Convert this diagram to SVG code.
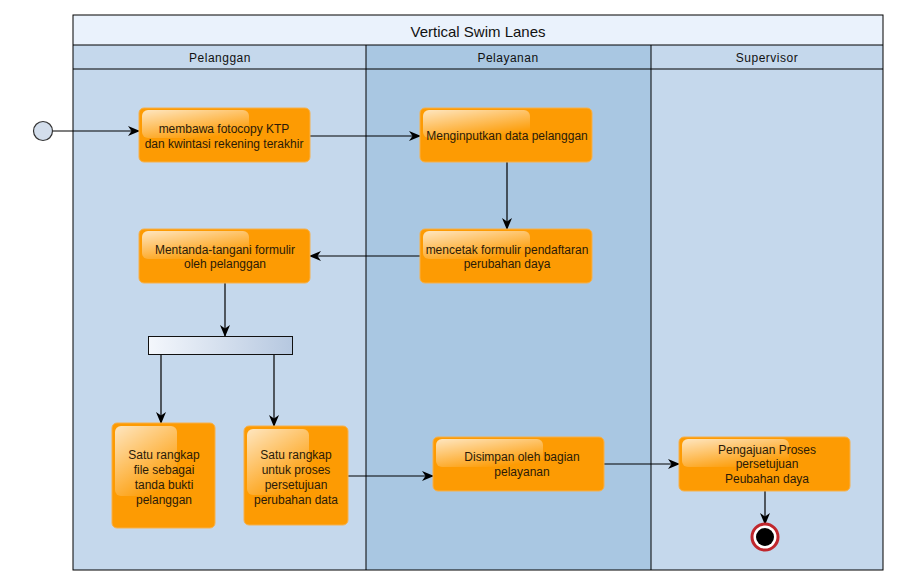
<svg xmlns="http://www.w3.org/2000/svg" width="897" height="585" viewBox="0 0 897 585">
<style>
.t{font-family:"Liberation Sans",Arial,sans-serif;font-size:12px;fill:#2a1a08;text-anchor:middle}
.h{font-family:"Liberation Sans",Arial,sans-serif;font-size:12px;fill:#111;text-anchor:middle;letter-spacing:0.5px}
.node{fill:#fd9b03;stroke:#f7b04a;stroke-width:1}
.gl{fill:url(#gloss)}
.c path{fill:none;stroke:#000;stroke-width:1.2}
.ln{stroke:#000;stroke-width:1;fill:none}
</style>
<defs>
<linearGradient id="gloss" x1="0" y1="0" x2="0.6" y2="1">
<stop offset="0" stop-color="#fff" stop-opacity="0.75"/>
<stop offset="1" stop-color="#fff" stop-opacity="0"/>
</linearGradient>
<linearGradient id="bar" x1="0" y1="0" x2="1" y2="0">
<stop offset="0" stop-color="#f4f7fc"/>
<stop offset="1" stop-color="#b6c8e0"/>
</linearGradient>
<marker id="ar" viewBox="0 0 12 10" refX="11" refY="5" markerWidth="12" markerHeight="10" markerUnits="userSpaceOnUse" orient="auto">
<path d="M0,0 L12,5 L0,10 L3.5,5 z" fill="#000"/>
</marker>
</defs>
<rect width="897" height="585" fill="#fff"/>
<g id="pool">
<rect x="73" y="15" width="810" height="30" fill="#eaf2fc"/>
<rect x="73" y="45" width="293" height="525" fill="#c5d8ec"/>
<rect x="366" y="45" width="285" height="525" fill="#a9c7e2"/>
<rect x="651" y="45" width="232" height="525" fill="#c5d8ec"/>
<rect x="73" y="15" width="810" height="555" class="ln"/>
<line x1="73" y1="45" x2="883" y2="45" class="ln"/>
<line x1="73" y1="69" x2="883" y2="69" class="ln"/>
<line x1="366" y1="45" x2="366" y2="570" class="ln"/>
<line x1="651" y1="45" x2="651" y2="570" class="ln"/>
<text x="478" y="37" font-family="Liberation Sans,Arial,sans-serif" font-size="15" text-anchor="middle" fill="#111">Vertical Swim Lanes</text>
<text x="220" y="62" class="h">Pelanggan</text>
<text x="508" y="62" class="h">Pelayanan</text>
<text x="767" y="62" class="h">Supervisor</text>
</g>
<g class="c" id="connectors">
<path d="M52,131 H139" marker-end="url(#ar)"/>
<path d="M310,136 H420" marker-end="url(#ar)"/>
<path d="M507,162 V229" marker-end="url(#ar)"/>
<path d="M420,256 H310" marker-end="url(#ar)"/>
<path d="M225,283 V336" marker-end="url(#ar)"/>
<path d="M161,355 V423" marker-end="url(#ar)"/>
<path d="M274,355 V426" marker-end="url(#ar)"/>
<path d="M348,476 H433" marker-end="url(#ar)"/>
<path d="M604,464 H679" marker-end="url(#ar)"/>
<path d="M765,491 V524" marker-end="url(#ar)"/>
</g>
<g id="start"><circle cx="43" cy="131" r="9.5" fill="#d3deec" stroke="#333" stroke-width="1.2"/></g>
<g id="n1"><rect x="139" y="108" width="171" height="54" rx="5" class="node"/><rect x="142" y="110" width="107" height="28" rx="6" class="gl"/>
<text x="224" y="133" class="t">membawa fotocopy KTP</text><text x="224" y="148" class="t">dan kwintasi rekening terakhir</text></g>
<g id="n2"><rect x="420" y="108" width="172" height="54" rx="5" class="node"/><rect x="423" y="110" width="107" height="28" rx="6" class="gl"/>
<text x="507" y="140" class="t">Menginputkan data pelanggan</text></g>
<g id="n3"><rect x="420" y="229" width="172" height="54" rx="5" class="node"/><rect x="423" y="231" width="107" height="28" rx="6" class="gl"/>
<text x="507" y="254" class="t">mencetak formulir pendaftaran</text><text x="507" y="268" class="t">perubahan daya</text></g>
<g id="n4"><rect x="139" y="229" width="171" height="54" rx="5" class="node"/><rect x="142" y="231" width="107" height="28" rx="6" class="gl"/>
<text x="225" y="254" class="t">Mentanda-tangani formulir</text><text x="225" y="268" class="t">oleh pelanggan</text></g>
<g id="fork"><rect x="148.5" y="336.5" width="144" height="18" fill="url(#bar)" stroke="#111" stroke-width="1"/></g>
<g id="n5"><rect x="112" y="423" width="103" height="105" rx="5" class="node"/><rect x="115" y="426" width="62" height="70" rx="6" class="gl"/>
<text x="164" y="459" class="t">Satu rangkap</text><text x="164" y="474" class="t">file sebagai</text><text x="164" y="489" class="t">tanda bukti</text><text x="164" y="504" class="t">pelanggan</text></g>
<g id="n6"><rect x="244" y="426" width="104" height="99" rx="5" class="node"/><rect x="247" y="429" width="62" height="66" rx="6" class="gl"/>
<text x="296" y="459" class="t">Satu rangkap</text><text x="296" y="474" class="t">untuk proses</text><text x="296" y="489" class="t">persetujuan</text><text x="296" y="504" class="t">perubahan data</text></g>
<g id="n7"><rect x="433" y="437" width="171" height="54" rx="5" class="node"/><rect x="436" y="439" width="107" height="28" rx="6" class="gl"/>
<text x="522" y="461" class="t">Disimpan oleh bagian</text><text x="522" y="476" class="t">pelayanan</text></g>
<g id="n8"><rect x="679" y="437" width="171" height="54" rx="5" class="node"/><rect x="682" y="439" width="107" height="28" rx="6" class="gl"/>
<text x="767" y="454" class="t">Pengajuan Proses</text><text x="767" y="468" class="t">persetujuan</text><text x="767" y="483" class="t">Peubahan daya</text></g>
<g id="end"><circle cx="765" cy="537" r="13" fill="#fff" stroke="#c0272d" stroke-width="3"/><circle cx="765" cy="537" r="9" fill="#000"/></g>
</svg>
